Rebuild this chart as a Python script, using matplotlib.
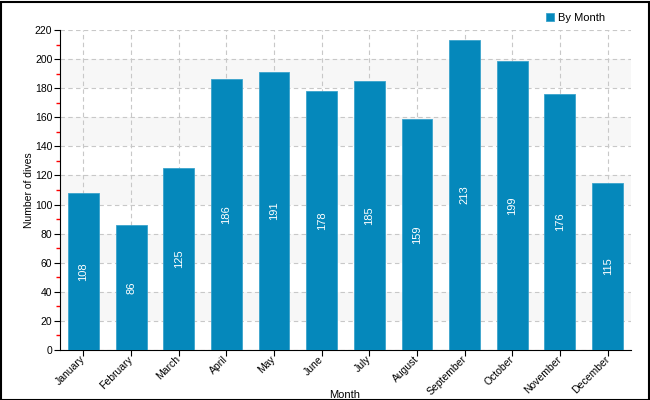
import matplotlib
matplotlib.use('Agg')
import matplotlib.pyplot as plt
from matplotlib.patches import Rectangle

plt.rcParams['font.family'] = ['Liberation Sans', 'DejaVu Sans']

months = ['January', 'February', 'March', 'April', 'May', 'June', 'July',
          'August', 'September', 'October', 'November', 'December']
dives = [108, 86, 125, 186, 191, 178, 185, 159, 213, 199, 176, 115]

bar_color = '#0588bb'

fig = plt.figure(figsize=(6.5, 4), dpi=100)
ax = fig.add_axes([60 / 650, 50 / 400, 571 / 650, 320 / 400])

# alternating light bands
for lo in range(20, 220, 40):
    ax.axhspan(lo, lo + 20, color='#f7f7f7', zorder=0, lw=0)

x = list(range(len(months)))
bars = ax.bar(x, dives, width=0.65, color=bar_color, edgecolor='#3aa3cc',
              linewidth=0.6, zorder=3, label='By Month')
for xi, v in zip(x, dives):
    ax.text(xi, v / 2, str(v), rotation=90, ha='center', va='center',
            color='white', fontsize=8, zorder=4)

ax.set_xlim(-0.49, len(months) - 0.51)
ax.set_ylim(0, 220)
ax.set_yticks(range(0, 221, 20))
ax.set_yticks(range(10, 220, 20), minor=True)
ax.tick_params(axis='y', which='minor', color='red', length=3, width=1)
ax.tick_params(axis='both', which='major', length=4, labelsize=7.5, color='black', pad=1.5)
ax.set_xticks(x)
ax.set_xticklabels(months, rotation=45, ha='right', va='center',
                   rotation_mode='anchor', fontsize=7.5)

ax.grid(True, linestyle=(0, (4, 3)), color='#c8c8c8', linewidth=0.8, zorder=1)
ax.set_axisbelow(True)
for s in ['top', 'right']:
    ax.spines[s].set_visible(False)

ax.set_ylabel('Number of dives', fontsize=7.5)
ax.yaxis.set_label_coords(-0.046, 0.5)
fig.text(345 / 650, 0, 'Month', ha='center', va='bottom', fontsize=8)

leg = ax.legend(loc='upper right', bbox_to_anchor=(0.973, 1.085), frameon=False,
                fontsize=8, handlelength=0.7, handleheight=0.7, handletextpad=0.4)

fig.patches.append(Rectangle((0.5 / 650, 0.5 / 400), 648 / 650, 398 / 400,
                             transform=fig.transFigure, fill=False,
                             edgecolor='black', linewidth=1.5))

fig.savefig('out.png', dpi=100)
